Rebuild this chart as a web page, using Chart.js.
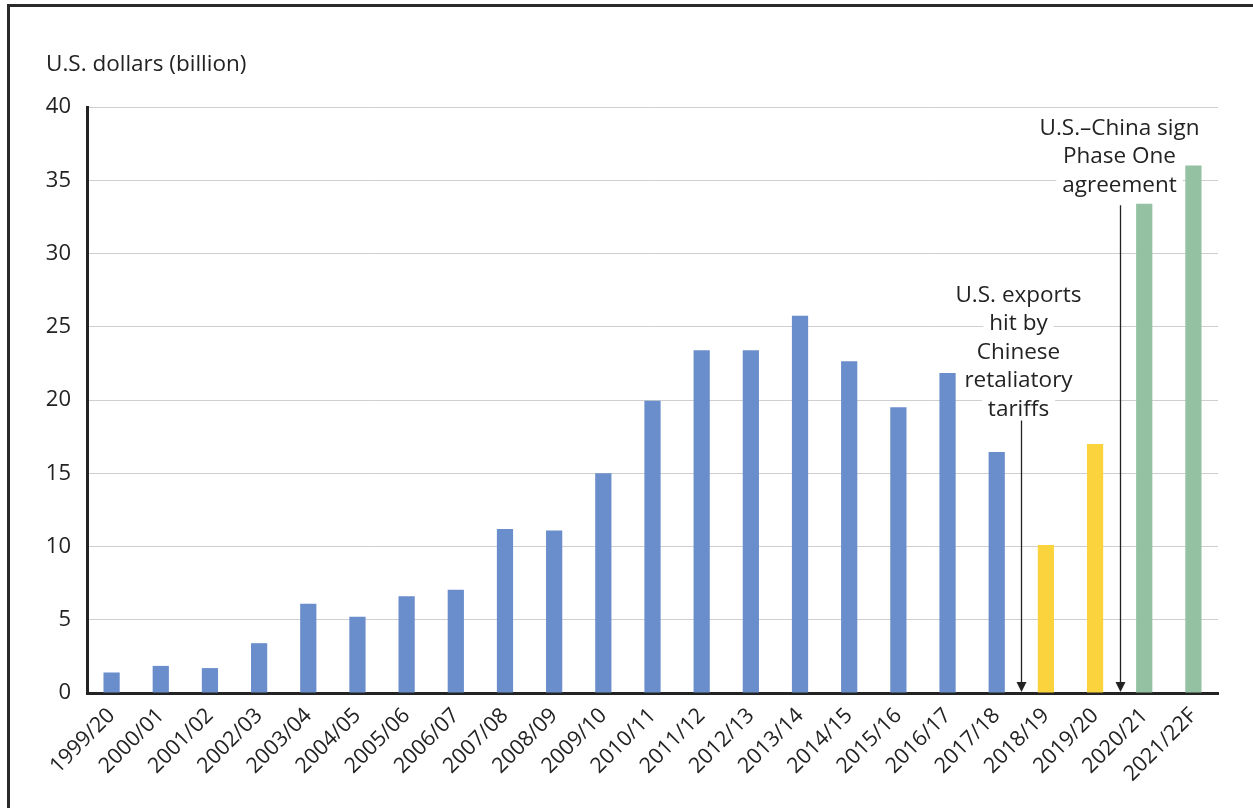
<!DOCTYPE html>
<html>
<head>
<meta charset="utf-8">
<title>U.S. agricultural exports to China</title>
<script src="https://cdn.jsdelivr.net/npm/chart.js@4/dist/chart.umd.min.js"></script>
<style>
  html, body { margin: 0; padding: 0; background: #fff; }
  #wrap { position: relative; width: 1253px; height: 808px; overflow: hidden; }
  #frame { position: absolute; left: 7px; top: 4px; width: 1300px; height: 900px;
           border-left: 3px solid #2a2a2a; border-top: 3px solid #2a2a2a; }
  canvas { position: absolute; left: 0; top: 0; }
</style>
</head>
<body>
<div id="wrap">
  <div id="frame"></div>
  <canvas id="chart" width="1253" height="808"></canvas>
</div>
<script>
// ── Data ──
const years = [
  "1999/20", "2000/01", "2001/02", "2002/03", "2003/04", "2004/05", "2005/06",
  "2006/07", "2007/08", "2008/09", "2009/10", "2010/11", "2011/12", "2012/13",
  "2013/14", "2014/15", "2015/16", "2016/17", "2017/18", "2018/19", "2019/20",
  "2020/21", "2021/22F",
];
const exportsBn = [
  1.4, 1.85, 1.7, 3.4, 6.1, 5.2, 6.6, 7.05, 11.2, 11.1, 15.0, 19.95,
  23.4, 23.4, 25.75, 22.65, 19.5, 21.85, 16.45, 10.1, 17.0, 33.4, 36.0,
];
const yTicks = [0, 5, 10, 15, 20, 25, 30, 35, 40];

// annotations: arrow sits between two categories, from a value down to zero
const notes = [
  { at: 18.5, from: 18.6, lines: ["U.S. exports", "hit by", "Chinese", "retaliatory", "tariffs"], dx: -3, gap: 11 },
  { at: 20.5, from: 33.3, lines: ["U.S.–China sign", "Phase One", "agreement"], dx: -1, gap: 20 },
];

const FONT = "'Open Sans', Roboto, 'Liberation Sans', Arial, sans-serif";
const INK = "#232323";

function barColor(ctx) {
  const i = ctx.dataIndex;
  if (i < 19) return "#6a8dcb";   // before tariffs
  if (i < 21) return "#fbd33d";   // tariff years
  return "#93c1a2";               // Phase One
}

// ── Unit label + arrows ──
const annotate = {
  id: "annotate",
  afterDatasetsDraw(chart) {
    const { ctx, scales: { x, y } } = chart;
    ctx.save();
    ctx.fillStyle = INK;
    ctx.font = `22.5px ${FONT}`;
    ctx.textAlign = "left";
    ctx.textBaseline = "middle";
    ctx.fillText("U.S. dollars (billion)", 46, 65);

    const lh = 28.5;
    notes.forEach((n) => {
      const ax = Math.round(x.getPixelForValue(n.at)) + 0.5;
      const yTop = y.getPixelForValue(n.from);
      const y0 = y.getPixelForValue(0) - 1;

      // text with white backing
      ctx.font = `22.5px ${FONT}`;
      ctx.textAlign = "center";
      const cx = ax + n.dx;
      const firstY = yTop - n.gap - lh * (n.lines.length - 1);
      n.lines.forEach((t, k) => {
        const w = ctx.measureText(t).width;
        const ty = firstY + k * lh;
        ctx.fillStyle = "#fff";
        ctx.fillRect(cx - w / 2 - 6, ty - lh / 2, w + 12, lh);
      });
      ctx.fillStyle = INK;
      n.lines.forEach((t, k) => ctx.fillText(t, cx, firstY + k * lh));

      // arrow
      ctx.strokeStyle = INK;
      ctx.lineWidth = 1.3;
      ctx.beginPath();
      ctx.moveTo(ax, yTop);
      ctx.lineTo(ax, y0 - 8);
      ctx.stroke();
      ctx.beginPath();
      ctx.moveTo(ax - 5, y0 - 10);
      ctx.lineTo(ax + 5, y0 - 10);
      ctx.lineTo(ax, y0);
      ctx.closePath();
      ctx.fill();
    });
    ctx.restore();
  },
};

// ── Chart ──
new Chart(document.getElementById("chart"), {
  type: "bar",
  data: {
    labels: years,
    datasets: [{
      data: exportsBn,
      backgroundColor: barColor,
      borderWidth: 0,
      barPercentage: 0.33,
      categoryPercentage: 1.0,
    }],
  },
  options: {
    responsive: false,
    animation: false,
    layout: { padding: { left: 0, right: 35, top: 107, bottom: 0 } },
    plugins: { legend: { display: false }, tooltip: { enabled: false } },
    scales: {
      x: {
        grid: { display: false, drawTicks: false },
        border: { display: true, color: INK, width: 3 },
        ticks: {
          color: INK,
          font: { family: FONT, size: 21.5 },
          minRotation: 45,
          maxRotation: 45,
          padding: 10,
          autoSkip: false,
        },
        afterFit(s) { s.height = 115; },
      },
      y: {
        min: 0,
        max: 40,
        afterBuildTicks(s) { s.ticks = yTicks.map((v) => ({ value: v })); },
        grid: { color: "#cfcfcf", lineWidth: 1, drawTicks: false },
        border: { display: true, color: INK, width: 3 },
        ticks: {
          color: INK,
          font: { family: FONT, size: 22 },
          padding: 16,
        },
        afterFit(s) { s.width = 87; },
      },
    },
  },
  plugins: [annotate],
});
</script>
</body>
</html>
